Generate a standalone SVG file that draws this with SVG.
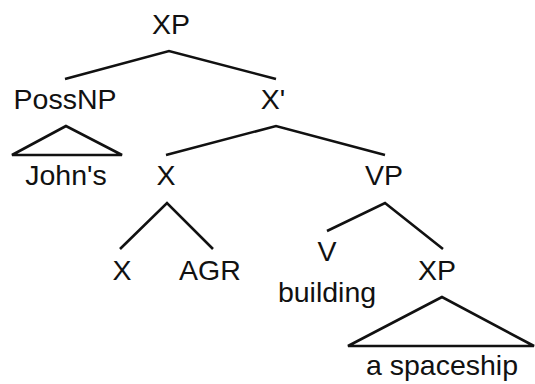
<svg xmlns="http://www.w3.org/2000/svg" width="535" height="384" viewBox="0 0 535 384">
<style>
text{font-family:"Liberation Sans",Arial,sans-serif;font-size:28.5px;fill:#111;text-anchor:middle}
.e{stroke:#111;stroke-width:2.6;fill:none;stroke-linecap:butt;stroke-linejoin:miter}
</style>
<rect width="535" height="384" fill="#fff"/>
<g id="connectors">
<polyline class="e" points="65,79 169,51 276,79"/>
<polygon class="e" points="66,126 12,155 122,155"/>
<polyline class="e" points="166,155 276,126 385,155"/>
<polyline class="e" points="120,249 167,203 213,249"/>
<polyline class="e" points="327,231 385,203 443,249"/>
<polygon class="e" points="442,297 348,346 534,346"/>
</g>
<g id="n-xp-top"><text x="171" y="34">XP</text></g>
<g id="n-possnp"><text x="65" y="109">PossNP</text></g>
<g id="n-johns"><text x="66" y="185">John's</text></g>
<g id="n-xbar"><text x="273" y="109">X'</text></g>
<g id="n-x"><text x="166" y="185">X</text></g>
<g id="n-vp"><text x="384" y="185">VP</text></g>
<g id="n-x-leaf"><text x="122" y="280">X</text></g>
<g id="n-agr"><text x="210" y="280">AGR</text></g>
<g id="n-v"><text x="327" y="261">V</text></g>
<g id="n-building"><text x="327" y="302">building</text></g>
<g id="n-xp-low"><text x="437" y="280">XP</text></g>
<g id="n-spaceship"><text x="442" y="375">a spaceship</text></g>
</svg>
